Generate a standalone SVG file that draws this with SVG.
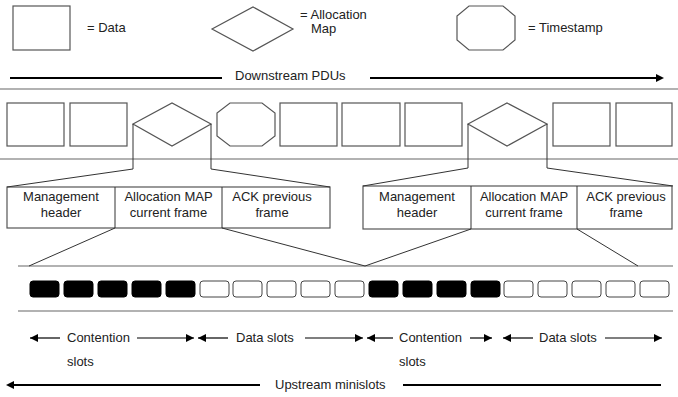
<svg xmlns="http://www.w3.org/2000/svg" width="678" height="397" viewBox="0 0 678 397">
<defs>
<marker id="ah" viewBox="0 0 10 10" refX="10" refY="5" markerWidth="9" markerHeight="8" markerUnits="userSpaceOnUse" orient="auto">
<path d="M0,0 L10,5 L0,10 z" fill="#000"/>
</marker>
<marker id="ahs" viewBox="0 0 10 10" refX="10" refY="5" markerWidth="7" markerHeight="7" markerUnits="userSpaceOnUse" orient="auto">
<path d="M0,0 L10,5 L0,10 z" fill="#000"/>
</marker>
</defs>
<style>
text{font-family:"Liberation Sans",Arial,sans-serif;font-size:13px;fill:#222}
.c{text-anchor:middle}
.shape{fill:#fff;stroke:#555;stroke-width:1.2}
.sep{stroke:#999;stroke-width:1.5;fill:none}
.thin{stroke:#333;stroke-width:1;fill:none}
.arr{stroke:#000;stroke-width:1.2;fill:none;marker-end:url(#ah)}
.thick{stroke:#000;stroke-width:2.2;fill:none}
.slot{fill:#fff;stroke:#444;stroke-width:1}
.slot.b{fill:#000;stroke:#000}
</style>
<rect width="678" height="397" fill="#fff"/>

<g id="legend">
<g id="legend-data">
<rect class="shape" x="13" y="6" width="57" height="44"/>
<text x="87" y="32">= Data</text>
</g>
<g id="legend-map">
<polygon class="shape" points="212,29 253,7 293,29 253,51"/>
<text x="300" y="19">= Allocation</text>
<text x="311" y="33">Map</text>
</g>
<g id="legend-ts">
<polygon class="shape" points="469,6 503,6 515,16 515,40 503,50 469,50 457,40 457,16"/>
<text x="528" y="32">= Timestamp</text>
</g>
</g>

<g id="downstream">
<line class="thick" x1="10" y1="78" x2="222" y2="78"/>
<text x="235" y="80">Downstream PDUs</text>
<line class="thick" x1="370" y1="78" x2="657" y2="78"/>
<path d="M656,74 L664,78 L656,82 z" fill="#000"/>
</g>

<g id="separators">
<line class="sep" x1="0" y1="89" x2="678" y2="89"/>
<line class="sep" x1="0" y1="159" x2="678" y2="159"/>
<line class="sep" x1="18" y1="266" x2="673" y2="266"/>
<line class="sep" x1="18" y1="311" x2="673" y2="311"/>
</g>

<g id="pdus">
<rect id="pdu1" class="shape" x="7" y="103" width="57" height="43"/>
<rect id="pdu2" class="shape" x="70" y="103" width="57" height="43"/>
<polygon id="pdu3" class="shape" points="133,124 172,103 211,124 172,146"/>
<polygon id="pdu4" class="shape" points="230,103 262,103 275,113 275,136 262,146 230,146 217,136 217,113"/>
<rect id="pdu5" class="shape" x="280" y="103" width="57" height="43"/>
<rect id="pdu6" class="shape" x="342" y="103" width="58" height="43"/>
<rect id="pdu7" class="shape" x="405" y="103" width="57" height="43"/>
<polygon id="pdu8" class="shape" points="468,124 507,103 547,124 507,146"/>
<rect id="pdu9" class="shape" x="553" y="103" width="57" height="43"/>
<rect id="pdu10" class="shape" x="616" y="103" width="56" height="43"/>
</g>

<g id="frame1">
<rect class="shape" x="7" y="187" width="323" height="41"/>
<line class="thin" x1="115" y1="187" x2="115" y2="228"/>
<line class="thin" x1="222" y1="187" x2="222" y2="228"/>
<text class="c" x="61" y="201">Management</text>
<text class="c" x="61" y="217">header</text>
<text class="c" x="168.5" y="201">Allocation MAP</text>
<text class="c" x="168.5" y="217">current frame</text>
<text class="c" x="272" y="201">ACK previous</text>
<text class="c" x="272" y="217">frame</text>
</g>

<g id="frame2">
<rect class="shape" x="363" y="186" width="309" height="43"/>
<line class="thin" x1="471" y1="186" x2="471" y2="229"/>
<line class="thin" x1="577" y1="186" x2="577" y2="229"/>
<text class="c" x="417" y="201">Management</text>
<text class="c" x="417" y="217">header</text>
<text class="c" x="524" y="201">Allocation MAP</text>
<text class="c" x="524" y="217">current frame</text>
<text class="c" x="626" y="201">ACK previous</text>
<text class="c" x="626" y="217">frame</text>
</g>

<g id="connectors">
<polyline class="thin" points="133,124 133,169 7,187"/>
<polyline class="thin" points="211,124 211,169 330,187"/>
<polyline class="thin" points="468,124 468,168 363,186"/>
<polyline class="thin" points="547,124 547,168 673,186"/>
<line class="thin" x1="115" y1="228" x2="29" y2="266"/>
<line class="thin" x1="222" y1="228" x2="365" y2="266"/>
<line class="thin" x1="471" y1="229" x2="365" y2="266"/>
<line class="thin" x1="577" y1="229" x2="638" y2="266"/>
</g>

<g id="minislots">
<rect class="slot b" x="30" y="281" width="29" height="16" rx="3"/>
<rect class="slot b" x="64" y="281" width="29" height="16" rx="3"/>
<rect class="slot b" x="98" y="281" width="29" height="16" rx="3"/>
<rect class="slot b" x="132" y="281" width="29" height="16" rx="3"/>
<rect class="slot b" x="166" y="281" width="29" height="16" rx="3"/>
<rect class="slot" x="200" y="281" width="29" height="16" rx="3"/>
<rect class="slot" x="233" y="281" width="29" height="16" rx="3"/>
<rect class="slot" x="267" y="281" width="29" height="16" rx="3"/>
<rect class="slot" x="301" y="281" width="29" height="16" rx="3"/>
<rect class="slot" x="335" y="281" width="29" height="16" rx="3"/>
<rect class="slot b" x="369" y="281" width="29" height="16" rx="3"/>
<rect class="slot b" x="403" y="281" width="29" height="16" rx="3"/>
<rect class="slot b" x="437" y="281" width="29" height="16" rx="3"/>
<rect class="slot b" x="471" y="281" width="29" height="16" rx="3"/>
<rect class="slot" x="504" y="281" width="29" height="16" rx="3"/>
<rect class="slot" x="538" y="281" width="29" height="16" rx="3"/>
<rect class="slot" x="572" y="281" width="29" height="16" rx="3"/>
<rect class="slot" x="606" y="281" width="29" height="16" rx="3"/>
<rect class="slot" x="640" y="281" width="29" height="16" rx="3"/>
</g>

<g id="slot-labels">
<line class="arr" x1="60" y1="338" x2="30" y2="338"/>
<text x="67" y="342">Contention</text>
<text x="67" y="366">slots</text>
<line class="arr" x1="137" y1="338" x2="194" y2="338"/>
<line class="arr" x1="228" y1="338" x2="198" y2="338"/>
<text x="236" y="342">Data slots</text>
<line class="arr" x1="305" y1="338" x2="363" y2="338"/>
<line class="arr" x1="393" y1="338" x2="367" y2="338"/>
<text x="399" y="342">Contention</text>
<text x="399" y="366">slots</text>
<line class="arr" x1="470" y1="338" x2="492" y2="338"/>
<line class="arr" x1="533" y1="338" x2="503" y2="338"/>
<text x="539" y="342">Data slots</text>
<line class="arr" x1="605" y1="338" x2="662" y2="338"/>
</g>

<g id="upstream">
<line class="thick" x1="260" y1="385" x2="13" y2="385"/>
<path d="M14,381 L6,385 L14,389 z" fill="#000"/>
<text x="275" y="389">Upstream minislots</text>
<line class="thick" x1="403" y1="385" x2="661" y2="385"/>
</g>
</svg>
